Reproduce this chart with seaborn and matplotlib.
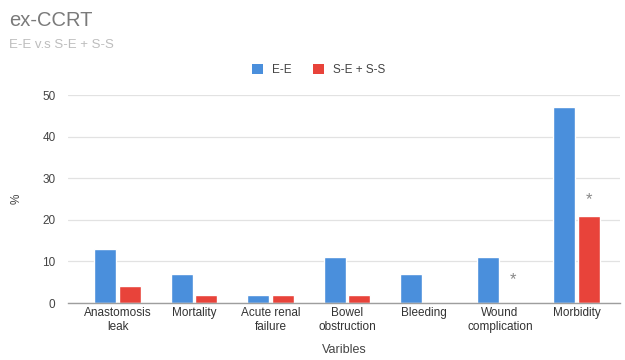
import matplotlib
matplotlib.use("Agg")
import matplotlib.pyplot as plt
import seaborn as sns
import pandas as pd
from matplotlib.patches import Patch

categories = ["Anastomosis\nleak", "Mortality", "Acute renal\nfailure", "Bowel\nobstruction",
              "Bleeding", "Wound\ncomplication", "Morbidity"]
ee_values = [13, 7, 2, 11, 7, 11, 47]
se_ss_values = [4, 2, 2, 2, 0, 0, 21]
series_names = ["E-E", "S-E + S-S"]
y_ticks = [0, 10, 20, 30, 40, 50]
# significance markers: (category index, height)
markers = [(5, 5.6), (6, 24.8)]

colors = ["#4a8fdc", "#e8433a"]

df = pd.DataFrame({
    "Variable": categories * 2,
    "Group": [series_names[0]] * len(categories) + [series_names[1]] * len(categories),
    "Value": ee_values + se_ss_values,
})

sns.set_theme(style="white")
plt.rcParams["font.family"] = ["Liberation Sans", "DejaVu Sans"]

fig = plt.figure(figsize=(6.25, 3.6), dpi=100)
ax = fig.add_axes([68 / 625, 1 - 303 / 360, (620 - 68) / 625, (303 - 95) / 360])

sns.barplot(data=df, x="Variable", y="Value", hue="Group", palette=colors,
            width=0.64, gap=0.1, ax=ax, legend=False, saturation=1)

ax.set_xlim(-0.65, 6.57)
ax.set_ylim(0, 50)
ax.set_yticks(y_ticks)
ax.set_yticklabels([str(t) for t in y_ticks], fontsize=8.5, color="#444444")
ax.tick_params(axis="x", labelsize=8.5, colors="#333333", length=0, pad=3)
ax.tick_params(axis="y", length=0, pad=9)
ax.yaxis.grid(True, color="#e2e2e2", linewidth=0.9)
ax.set_axisbelow(True)
for s in ["top", "right", "left"]:
    ax.spines[s].set_visible(False)
ax.spines["bottom"].set_color("#9e9e9e")
ax.spines["bottom"].set_linewidth(1.0)

ax.set_xlabel("Varibles", fontsize=9, color="#444444", labelpad=8)
ax.set_ylabel("%", fontsize=8.5, color="#444444", labelpad=14)

for idx, h in markers:
    ax.text(idx + 0.17, h, "*", ha="center", va="center", fontsize=12, color="#888888")

fig.text(9 / 625, 1 - 20 / 360, "ex-CCRT", fontsize=14.5, color="#7a7a7a", va="center", ha="left")
fig.text(9 / 625, 1 - 45 / 360, "E-E v.s S-E + S-S", fontsize=9.5, color="#bdbdbd", va="center", ha="left")

handles = [Patch(facecolor=c, edgecolor="none") for c in colors]
fig.legend(handles, series_names, loc="center", bbox_to_anchor=(319 / 625, 1 - 70 / 360),
           ncol=2, frameon=False, fontsize=8.5, handlelength=0.9, handleheight=0.9,
           columnspacing=1.8, handletextpad=0.8, labelcolor="#444444")

fig.savefig("out.png", dpi=100)
